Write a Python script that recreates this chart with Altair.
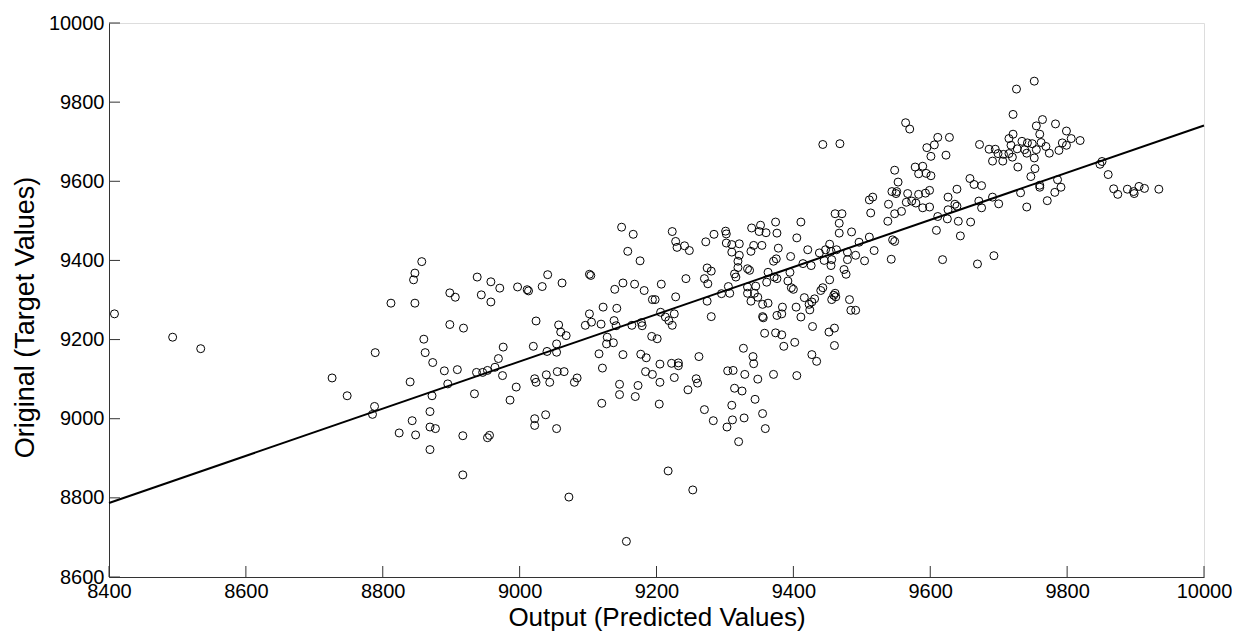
import altair as alt
import pandas as pd

# ---- axis ticks / labels ----
x_ticks = [8400, 8600, 8800, 9000, 9200, 9400, 9600, 9800, 10000]
y_ticks = [8600, 8800, 9000, 9200, 9400, 9600, 9800, 10000]

# ---- fitted line end points ----
fit_pred = [8400, 10000]
fit_target = [8787, 9741]

# ---- scatter points (predicted, target) ----
pred_left = [8408, 8493, 8534, 8726, 8789, 8812, 8845, 8847, 8847, 8840, 8748, 8788, 8785, 8843, 8824, 8848,
             8857, 8898, 8906, 8938, 8958, 8971, 8944, 8958, 8997, 9011, 9013, 9033, 9041, 9062, 9102, 9104]
target_left = [9265, 9206, 9177, 9103, 9167, 9292, 9351, 9368, 9292, 9093, 9058, 9031, 9011, 8995, 8964, 8959,
               9397, 9318, 9307, 9358, 9346, 9330, 9313, 9295, 9333, 9326, 9323, 9334, 9364, 9343, 9365, 9362]

pred_mid1 = [9149, 9166, 9158, 9176, 9139, 9151, 9168, 9182, 9207, 9223, 9228, 9230, 9241, 9248, 9272, 9284,
             9274, 9280, 9243, 9270, 9275, 9228, 9194, 9198, 9274, 9280, 9122, 9142, 9102, 9105, 9096, 9119,
             9138, 9141, 9164, 9178, 9179, 9206, 9213, 9226, 9218, 9223, 9128, 9127, 9137, 9193, 9201, 9057,
             9060, 9068, 9024, 9054, 9054, 9040, 9020, 8976, 8969, 8898, 8918, 8860, 8862, 8873, 8890, 8909,
             8937, 8946, 8953, 8964, 8975, 8895, 8872, 8934, 8995, 8986, 9022, 9024, 9039, 9044, 9055, 9065]
target_mid1 = [9484, 9466, 9423, 9399, 9327, 9343, 9340, 9324, 9340, 9473, 9448, 9433, 9437, 9425, 9447, 9466,
               9381, 9373, 9354, 9354, 9341, 9308, 9301, 9301, 9297, 9258, 9282, 9279, 9265, 9244, 9236, 9239,
               9248, 9235, 9236, 9243, 9235, 9269, 9257, 9265, 9248, 9236, 9206, 9189, 9192, 9208, 9202, 9237,
               9219, 9210, 9247, 9189, 9168, 9170, 9183, 9181, 9152, 9238, 9229, 9201, 9167, 9142, 9121, 9124,
               9117, 9117, 9122, 9130, 9109, 9088, 9058, 9063, 9080, 9047, 9101, 9092, 9111, 9092, 9119, 9119]

pred_mid2 = [9084, 9080, 9121, 9120, 9146, 9146, 9169, 9173, 9184, 9194, 9205, 9205, 9204, 9226, 9232, 9222,
             9232, 9246, 9258, 9260, 9270, 9283, 8869, 8869, 8877, 8869, 8917, 8953, 8956, 8917, 9022, 9022,
             9038, 9054, 9072, 9156, 9217, 9253, 9116, 9151, 9177, 9185, 9262]
target_mid2 = [9103, 9092, 9128, 9039, 9087, 9061, 9056, 9084, 9119, 9112, 9138, 9092, 9037, 9104, 9141, 9140,
               9134, 9073, 9101, 9090, 9023, 8995, 9018, 8979, 8975, 8922, 8957, 8952, 8958, 8858, 9000, 8983,
               9010, 8975, 8802, 8690, 8868, 8820, 9164, 9162, 9163, 9154, 9157]

pred_right1 = [9443, 9468, 9564, 9570, 9611, 9628, 9606, 9595, 9601, 9623, 9548, 9578, 9589, 9583, 9594, 9601,
               9553, 9544, 9551, 9550, 9567, 9583, 9593, 9599, 9639, 9626, 9516, 9511, 9658, 9664, 9675, 9672,
               9686, 9695, 9699, 9707, 9691, 9706, 9691, 9671, 9539, 9565, 9573, 9579, 9589, 9599, 9548, 9558,
               9513, 9538, 9461, 9471, 9467, 9467, 9485, 9611, 9626, 9636, 9639, 9625, 9641, 9659, 9675, 9700,
               9732, 9741, 9609, 9644, 9618, 9669, 9693, 9511, 9545, 9548, 9518, 9543, 9504, 9496, 9491, 9479]
target_right1 = [9693, 9695, 9748, 9732, 9711, 9711, 9692, 9685, 9663, 9666, 9628, 9636, 9638, 9619, 9620, 9614,
                 9598, 9574, 9574, 9569, 9569, 9567, 9570, 9577, 9580, 9560, 9560, 9553, 9607, 9592, 9589, 9693,
                 9681, 9681, 9670, 9668, 9651, 9651, 9560, 9550, 9542, 9547, 9550, 9545, 9533, 9535, 9518, 9524,
                 9520, 9499, 9518, 9518, 9494, 9469, 9472, 9511, 9528, 9542, 9537, 9505, 9499, 9497, 9533, 9543,
                 9571, 9535, 9476, 9462, 9402, 9391, 9412, 9459, 9452, 9448, 9425, 9403, 9399, 9446, 9413, 9421]

pred_centre = [9479, 9453, 9447, 9455, 9463, 9438, 9445, 9456, 9455, 9426, 9421, 9414, 9405, 9411, 9374, 9376,
               9339, 9352, 9350, 9360, 9301, 9302, 9302, 9310, 9321, 9338, 9342, 9354, 9310, 9321, 9378, 9375,
               9371, 9396, 9319, 9319, 9333, 9336, 9314, 9316, 9363, 9372, 9376, 9395, 9392, 9397, 9400, 9361,
               9474, 9477, 9453, 9443, 9440, 9461, 9459, 9462, 9456, 9482, 9484, 9491, 9295, 9307, 9305, 9333,
               9345, 9333, 9343, 9348, 9338, 9355, 9363, 9355, 9356, 9376, 9383, 9384, 9404, 9411, 9416, 9423]
target_centre = [9402, 9441, 9427, 9423, 9427, 9419, 9400, 9402, 9387, 9387, 9427, 9392, 9457, 9497, 9497, 9469,
                 9482, 9489, 9473, 9470, 9474, 9467, 9444, 9440, 9442, 9423, 9438, 9438, 9421, 9413, 9431, 9404,
                 9398, 9410, 9398, 9382, 9379, 9375, 9366, 9358, 9370, 9358, 9354, 9370, 9348, 9331, 9327, 9345,
                 9377, 9365, 9351, 9331, 9324, 9317, 9312, 9308, 9301, 9301, 9274, 9274, 9316, 9317, 9334, 9333,
                 9335, 9317, 9317, 9307, 9297, 9289, 9292, 9258, 9255, 9261, 9265, 9282, 9282, 9257, 9306, 9289]

pred_low = [9427, 9431, 9424, 9428, 9358, 9374, 9383, 9386, 9402, 9460, 9452, 9460, 9427, 9434, 9327, 9341,
            9342, 9304, 9312, 9329, 9348, 9371, 9405, 9314, 9325, 9344, 9310, 9311, 9328, 9303, 9355, 9359, 9320]
target_low = [9295, 9303, 9275, 9233, 9216, 9217, 9212, 9183, 9193, 9229, 9219, 9185, 9162, 9145, 9178, 9157,
              9139, 9121, 9122, 9112, 9100, 9112, 9109, 9077, 9070, 9049, 9034, 8997, 9002, 8979, 9013, 8975, 8942]

pred_top = [9752, 9726, 9721, 9764, 9783, 9755, 9799, 9760, 9721, 9715, 9806, 9819, 9734, 9742, 9749, 9762,
            9793, 9799, 9718, 9769, 9727, 9738, 9755, 9788, 9774, 9741, 9715, 9720, 9752, 9728, 9753, 9747,
            9786, 9848, 9851, 9860, 9760, 9760, 9791, 9782, 9771, 9868, 9874, 9888, 9897, 9898, 9905, 9913, 9934]
target_top = [9853, 9833, 9769, 9756, 9745, 9740, 9727, 9719, 9719, 9708, 9708, 9703, 9701, 9697, 9695, 9698,
              9697, 9691, 9691, 9688, 9682, 9680, 9680, 9678, 9671, 9671, 9670, 9661, 9659, 9636, 9632, 9612,
              9604, 9643, 9650, 9617, 9590, 9585, 9585, 9572, 9551, 9581, 9567, 9580, 9574, 9569, 9587, 9582, 9580]

pred = pred_left + pred_mid1 + pred_mid2 + pred_right1 + pred_centre + pred_low + pred_top
target = target_left + target_mid1 + target_mid2 + target_right1 + target_centre + target_low + target_top

W, H = 1095, 554
FONT = "Liberation Sans"
AXIS_COLOR = "#333333"

pts = pd.DataFrame({"pred": pred, "target": target})
fit = pd.DataFrame({"pred": fit_pred, "target": fit_target})
xt = pd.DataFrame({"pred": x_ticks})
yt = pd.DataFrame({"target": y_ticks})

xs = alt.Scale(domain=[8400, 10000], nice=False, zero=False)
ys = alt.Scale(domain=[8600, 10000], nice=False, zero=False)

x_axis = alt.Axis(values=x_ticks, format="d", ticks=False, grid=False,
                  labelFontSize=20, labelFont=FONT, labelColor="black", labelPadding=4,
                  labelFlush=False, labelOverlap=False,
                  domainColor=AXIS_COLOR, domainWidth=1,
                  title="Output (Predicted Values)", titleFont=FONT, titleFontSize=26,
                  titleFontWeight="normal", titleColor="black",
                  titleBaseline="alphabetic", titleX=W / 2, titleY=48)
y_axis = alt.Axis(values=y_ticks, format="d", ticks=False, grid=False,
                  labelFontSize=20, labelFont=FONT, labelColor="black", labelPadding=5,
                  labelFlush=False, labelOverlap=False,
                  domainColor=AXIS_COLOR, domainWidth=1,
                  title="Original (Target Values)", titleFont=FONT, titleFontSize=27,
                  titleFontWeight="normal", titleColor="black", titleAngle=270,
                  titleBaseline="alphabetic", titleX=-76, titleY=294, titleAlign="center")

xtick_layer = alt.Chart(xt).mark_rule(color=AXIS_COLOR, strokeWidth=1).encode(
    x=alt.X("pred:Q", scale=xs, axis=x_axis), y=alt.value(H), y2=alt.value(H - 11))
ytick_layer = alt.Chart(yt).mark_rule(color=AXIS_COLOR, strokeWidth=1).encode(
    y=alt.Y("target:Q", scale=ys, axis=y_axis), x=alt.value(0), x2=alt.value(11))

line_layer = alt.Chart(fit).mark_line(color="black", strokeWidth=2).encode(
    x=alt.X("pred:Q", scale=xs), y=alt.Y("target:Q", scale=ys))

point_layer = alt.Chart(pts).mark_point(shape="circle", filled=False, size=64, strokeWidth=1,
                                        color="black", opacity=1).encode(
    x=alt.X("pred:Q", scale=xs), y=alt.Y("target:Q", scale=ys))

chart = alt.layer(xtick_layer, ytick_layer, line_layer, point_layer).properties(
    width=W, height=H,
    autosize=alt.AutoSizeParams(type="none"),
    padding={"left": 101, "top": 15, "right": 28, "bottom": 54},
    background="white",
).configure_view(stroke=None).configure(font=FONT)

chart.save("out.html", embed_options={"renderer": "svg", "actions": False})
